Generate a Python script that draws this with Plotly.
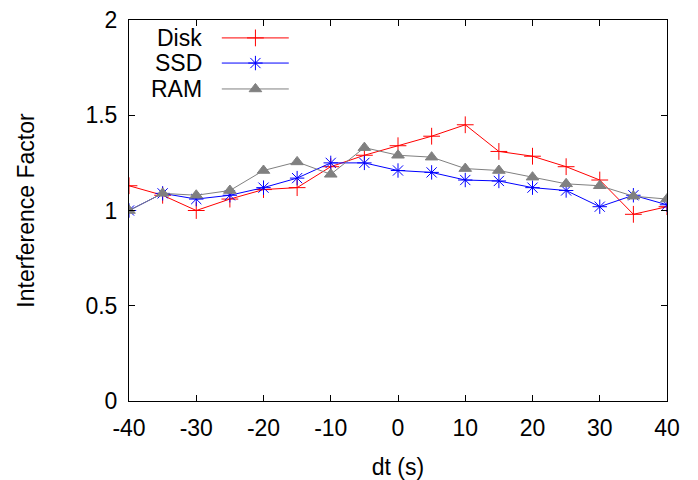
import plotly.graph_objects as go

dt = [-40, -35, -30, -25, -20, -15, -10, -5, 0, 5, 10, 15, 20, 25, 30, 35, 40]
disk = [1.13, 1.08, 1.00, 1.06, 1.11, 1.12, 1.23, 1.29, 1.34, 1.39, 1.45, 1.31, 1.285, 1.23, 1.16, 0.98, 1.02]
ssd = [1.00, 1.09, 1.06, 1.08, 1.12, 1.17, 1.25, 1.25, 1.21, 1.20, 1.16, 1.155, 1.12, 1.105, 1.02, 1.08, 1.03]
ram = [1.00, 1.09, 1.08, 1.105, 1.21, 1.255, 1.19, 1.33, 1.29, 1.28, 1.22, 1.21, 1.175, 1.14, 1.13, 1.075, 1.06]

series = [
    ("Disk", disk, "#ff0000", "cross-thin-open", 12),
    ("SSD", ssd, "#0000ff", "asterisk-open", 12),
    ("RAM", ram, "#808080", "triangle-up", 11),
]
xticks = [-40, -30, -20, -10, 0, 10, 20, 30, 40]
yticks = [0, 0.5, 1, 1.5, 2]
legend_y = [0.953, 0.887, 0.819]

fig = go.Figure()
for name, vals, col, sym, sz in series:
    fig.add_trace(go.Scatter(
        x=dt, y=vals, mode="lines+markers", name=name,
        line=dict(color=col, width=1),
        marker=dict(symbol=sym, size=sz, color=col, line=dict(color=col, width=1)),
        showlegend=False,
    ))

# gnuplot-style legend: text on left, sample on right
for (name, vals, col, sym, sz), ly in zip(series, legend_y):
    fig.add_trace(go.Scatter(
        x=[0.1725, 0.297], y=[ly, ly], mode="lines", xaxis="x2", yaxis="y2",
        line=dict(color=col, width=1), showlegend=False, hoverinfo="skip"))
    fig.add_trace(go.Scatter(
        x=[0.235], y=[ly], mode="markers", xaxis="x2", yaxis="y2",
        marker=dict(symbol=sym, size=sz, color=col, line=dict(color=col, width=1)),
        showlegend=False, hoverinfo="skip"))
    fig.add_annotation(x=0.139, y=ly, xref="paper", yref="paper", text=name,
                       showarrow=False, xanchor="right", yanchor="middle",
                       font=dict(size=23, color="black"))

axis_common = dict(showline=True, linecolor="black", linewidth=1, mirror="allticks",
                   ticks="inside", ticklen=6, tickcolor="black", showgrid=False,
                   zeroline=False, automargin=False, tickfont=dict(size=23, color="black"))

fig.update_layout(
    width=698, height=480,
    margin=dict(l=129, r=31, t=20, b=79),
    paper_bgcolor="white", plot_bgcolor="white",
    font=dict(family="Liberation Sans, Arial, sans-serif", size=23, color="black"),
    xaxis=dict(range=[-40, 40], tickvals=xticks, ticktext=[str(v) for v in xticks],
               ticklabelstandoff=6,
               title=dict(text="dt (s)", font=dict(size=23), standoff=20), **axis_common),
    yaxis=dict(range=[0, 2], tickvals=yticks, ticktext=["0", "0.5", "1", "1.5", "2"],
               ticklabelstandoff=6,
               title=dict(text="Interference Factor", font=dict(size=23), standoff=44), **axis_common),
    xaxis2=dict(range=[0, 1], overlaying="x", visible=False),
    yaxis2=dict(range=[0, 1], overlaying="y", visible=False),
)

fig.write_html("out.html", config={"displayModeBar": False},
               post_script="document.body.style.margin='0px';document.body.style.overflow='hidden';")
